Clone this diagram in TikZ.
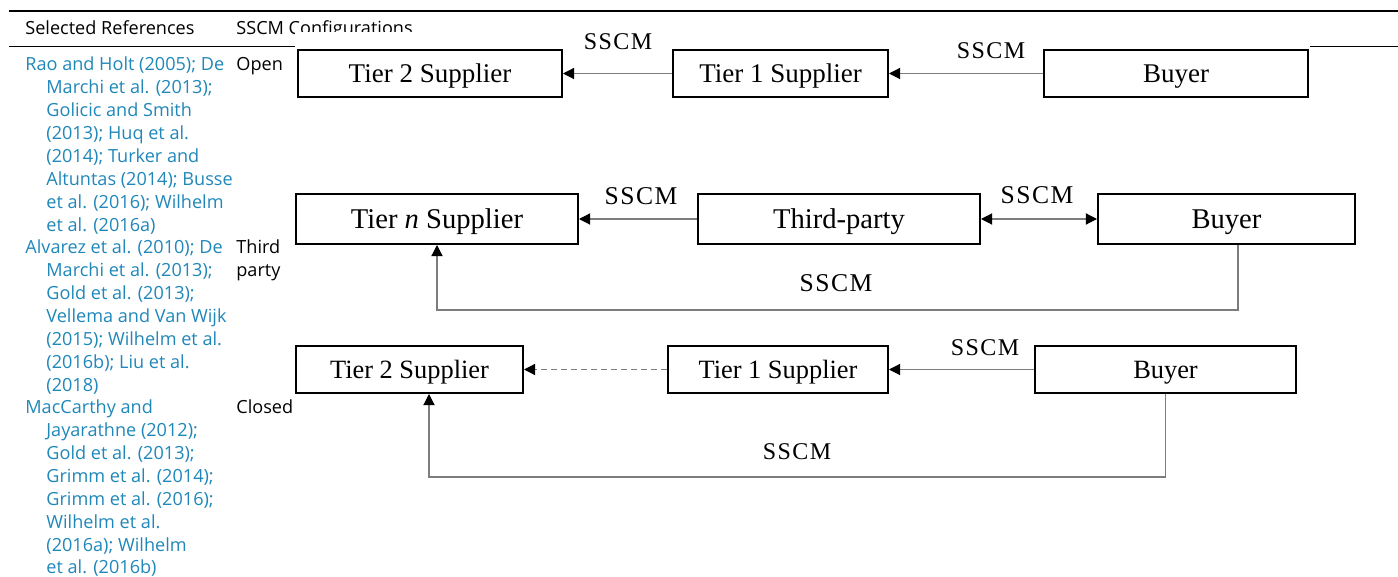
\documentclass[tikz,border=0pt]{standalone}
\usepackage{fontspec}
\setmainfont{Liberation Serif}
\newfontfamily\tabfont{Open Sans}
\newfontfamily\sscmfont[LetterSpace=6]{Liberation Serif}
\usetikzlibrary{arrows.meta}
\definecolor{reflink}{RGB}{31,135,185}
\definecolor{connc}{RGB}{125,125,125}
\begin{document}
\begin{tikzpicture}[x=0.5pt,y=-0.5pt,
  box/.style={draw=black,line width=1pt,minimum height=23.5pt,inner sep=0pt,text depth=0pt,font=\fontsize{13.5}{16}\selectfont},
  lbl/.style={font=\sscmfont\fontsize{12}{14}\selectfont,inner sep=0pt},
  tip/.style={-{Triangle[length=5.6pt,width=5.6pt,color=black]}},
  conn/.style={draw=connc,line width=0.6pt,tip},
  ref/.style={font=\tabfont\fontsize{9.05}{11}\selectfont,text=reflink,anchor=base west,inner sep=0pt},
  cfg/.style={font=\tabfont\fontsize{9.05}{11}\selectfont,anchor=base west,inner sep=0pt},
  rule/.style={line width=1pt}]
\useasboundingbox (0,0) rectangle (1398,577);
% table header
\draw[rule] (9,11.5) -- (1398,11.5);
\node[cfg] (h1) at (25,35) {Selected References};
\node[cfg] (h2) at (236,35) {SSCM Configurations};
\draw[line width=0.8pt] (9,46.5) -- (1398,46.5);
% references
\foreach \t [count=\i from 0] in {Rao and Holt (2005); De,Marchi et al. (2013);,Golicic and Smith,(2013); Huq et al.,(2014); Turker and,Altuntas (2014); Busse,et al. (2016); Wilhelm,et al. (2016a),Alvarez et al. (2010); De,Marchi et al. (2013);,Gold et al. (2013);,Vellema and Van Wijk,(2015); Wilhelm et al.,(2016b); Liu et al.,(2018),MacCarthy and,Jayarathne (2012);,Gold et al. (2013);,Grimm et al. (2014);,Grimm et al. (2016);,Wilhelm et al.,(2016a); Wilhelm,et al. (2016b)}{
  \ifnum\i=0 \def\xx{25}\else\ifnum\i=8 \def\xx{25}\else\ifnum\i=15 \def\xx{25}\else\def\xx{46}\fi\fi\fi
  \node[ref] (ref\i) at (\xx,71+22.86*\i) {\t};
}
\node[cfg] (c1) at (236,71) {Open};
\node[cfg] (c2) at (236,253.9) {Third};
\node[cfg] (c3) at (236,276.7) {party};
\node[cfg] (c4) at (236,413.9) {Closed};
% diagram canvas
\fill[white] (295,32) rectangle (1310,577);
% row 1
\node[box,minimum width=132pt] (a1) at (430,73.5) {Tier 2 Supplier};
\node[box,minimum width=107.5pt] (a2) at (780.5,73.5) {Tier 1 Supplier};
\node[box,minimum width=132pt] (a3) at (1176,73.5) {Buyer};
\draw[conn] (a2) -- (a1);
\draw[conn] (a3) -- (a2);
\node[lbl] (la1) at (618,42) {SSCM};
\node[lbl] (la2) at (991,51) {SSCM};
% row 2
\node[box,minimum width=141pt,minimum height=25pt,font=\fontsize{14.3}{17}\selectfont] (b1) at (437,219) {Tier \textit{n} Supplier};
\node[box,minimum width=141pt,minimum height=25pt,font=\fontsize{14.3}{17}\selectfont] (b2) at (839,219) {Third-party};
\node[box,minimum width=128.5pt,minimum height=25pt,font=\fontsize{14.3}{17}\selectfont] (b3) at (1226.5,219) {Buyer};
\draw[conn] (b2) -- (b1);
\draw[conn,{Triangle[length=5.6pt,width=5.6pt,color=black]}-{Triangle[length=5.6pt,width=5.6pt,color=black]}] (b2) -- (b3);
\coordinate (bc) at (1238,310);
\draw[conn] (b3.south -| bc) -- (bc) -| (b1.south);
\node[lbl,font=\sscmfont\fontsize{12.8}{15}\selectfont] (lb1) at (641,196) {SSCM};
\node[lbl,font=\sscmfont\fontsize{12.8}{15}\selectfont] (lb2) at (1037,195) {SSCM};
\node[lbl,font=\sscmfont\fontsize{12.8}{15}\selectfont] (lb3) at (836,283) {SSCM};
% row 3
\node[box,minimum width=113.5pt,font=\fontsize{13.2}{16}\selectfont] (d1) at (409.5,369.5) {Tier 2 Supplier};
\node[box,minimum width=110pt,font=\fontsize{13.2}{16}\selectfont] (d2) at (778,369.5) {Tier 1 Supplier};
\node[box,minimum width=130.5pt,font=\fontsize{13.2}{16}\selectfont] (d3) at (1165.5,369.5) {Buyer};
\draw[conn,dash pattern=on 3pt off 2pt] (d2) -- (d1);
\draw[conn] (d3) -- (d2);
\coordinate (dc) at (429,477);
\draw[conn] (d3.south) |- (dc) -- (dc |- d1.south);
\node[lbl] (ld1) at (985,348) {SSCM};
\node[lbl] (ld2) at (797,452) {SSCM};
\end{tikzpicture}
\end{document}
